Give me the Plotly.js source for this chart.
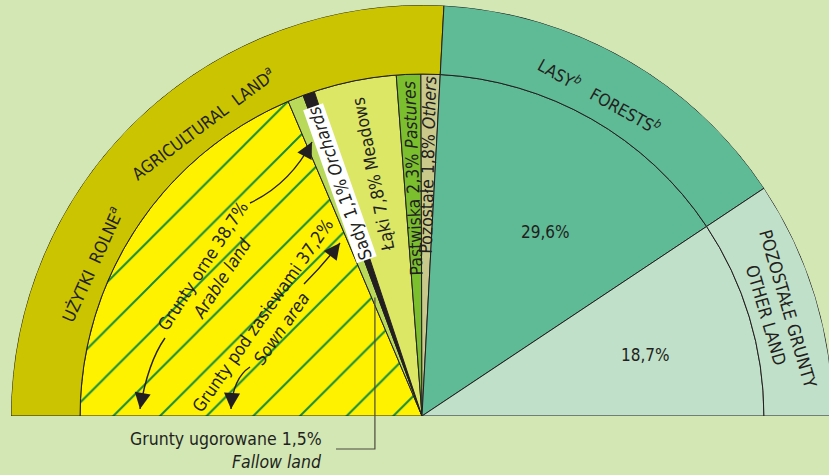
<!DOCTYPE html>
<html><head><meta charset="utf-8">
<script src="https://cdn.plot.ly/plotly-3.0.1.min.js"></script>
<style>
html,body{margin:0;padding:0;overflow:hidden;background:#d2e7b4;width:829px;height:475px}
#chart{width:845px;height:475px}
</style>
</head><body><div id="chart"></div>
<script>
// ---- data (percent of total area) ----
const categories   = ['Grunty pod zasiewami','Grunty ugorowane','Sady','Łąki','Pastwiska','Pozostałe','Lasy','Pozostałe grunty'];
const categoriesEn = ['Sown area','Fallow land','Orchards','Meadows','Pastures','Others','Forests','Other land'];
const shares       = [37.2, 1.5, 1.1, 7.8, 2.3, 1.8, 29.6, 18.7];
const groups       = ['UŻYTKI  ROLNE','LASY','POZOSTAŁE GRUNTY'];
const groupsEn     = ['AGRICULTURAL  LAND','FORESTS','OTHER LAND'];
const groupShares  = [51.7, 29.6, 18.7];

// ---- styles ----
const sliceColors = ['#fff200','#b9d95b','#231f20','#dce766','#7bbf2f','#c9c98c','#5fba96','#c1e0c9'];
const ringColors  = ['#cbc400','#5fba96','#c1e0c9'];
const ink = '#231f20';
const FONT = "'Liberation Sans Narrow','DejaVu Sans Condensed','Arial Narrow',sans-serif";
const DEG = 180/100;   // half circle = 100 %
const R_IN = 0.832;
const FS = 17.5;

function spans(vals){let c=0;return vals.map(v=>{const s=c;c+=v;return {start:s*DEG,end:c*DEG,mid:(s+v/2)*DEG,width:v*DEG};});}
const inner = spans(shares);
const outer = spans(groupShares);
const fmt = v => v.toFixed(1).replace('.',',') + '%';

const line = {color:ink, width:1};
const traces = [
  { type:'barpolar', name:categories[0],
    theta:[inner[0].mid], width:[inner[0].width], r:[R_IN], base:[0],
    marker:{color:sliceColors[0], line:line,
      pattern:{shape:'/', fgcolor:'#138b3e', bgcolor:sliceColors[0], size:33, solidity:0.06}},
    hoverinfo:'skip'},
  { type:'barpolar', name:'inner',
    theta:inner.slice(1).map(s=>s.mid), width:inner.slice(1).map(s=>s.width),
    r:inner.slice(1).map(()=>R_IN), base:inner.slice(1).map(()=>0),
    marker:{color:sliceColors.slice(1), line:line}, hoverinfo:'skip'},
  { type:'barpolar', name:'ring',
    theta:outer.map(s=>s.mid), width:outer.map(s=>s.width),
    r:outer.map(()=>1-R_IN), base:outer.map(()=>R_IN),
    marker:{color:ringColors, line:line}, hoverinfo:'skip'}
];

// geometry helpers for label placement (paper coords)
function P(t,r){const a=t*Math.PI/180;return {x:0.5-0.5*r*Math.cos(a), y:r*Math.sin(a)};}
function px(x){return (x-11)/822;}
function py(y){return (416-y)/411;}
function ann(pos,text,angle,size,extra){
  return Object.assign({xref:'paper',yref:'paper',x:pos.x,y:pos.y,text:text,textangle:angle,
    showarrow:false,font:{size:size,color:ink,family:FONT},xanchor:'center',yanchor:'middle'},extra||{});
}
// curved leader (quadratic) + arrow head at the tip
const shapes = [];
const heads = [];
function curvedArrow(x0,y0,cx,cy,x1,y1){
  shapes.push({type:'path', xref:'paper', yref:'paper',
    path:'M'+px(x0)+','+py(y0)+' Q'+px(cx)+','+py(cy)+' '+px(x1)+','+py(y1),
    line:{color:ink, width:1.4}});
  const dx=cx-x1, dy=cy-y1, L=Math.hypot(dx,dy);
  heads.push({xref:'paper',yref:'paper',x:px(x1),y:py(y1),text:'',showarrow:true,
    ax:dx/L*12, ay:dy/L*12, arrowhead:2, arrowsize:2.3, arrowwidth:1.4, arrowcolor:ink, standoff:0});
}
curvedArrow(250,203, 290,184, 312,142);
curvedArrow(165,338, 148,362, 140,409);
curvedArrow(304,284, 324,264, 340,243);
curvedArrow(250,367, 233,378, 231,409);

const arable = shares[0]+shares[1];
const annotations = [
  ann(P(24.6,0.885), groups[0]+'<sup><i>a</i></sup>', 24.6-90, 17),
  ann(P(53.3,0.89), groupsEn[0]+'<sup><i>a</i></sup>', 53.3-90, 17),
  ann(P(119,0.89), groups[1]+'<sup><i>b</i></sup>   '+groupsEn[1]+'<sup><i>b</i></sup>', 29, 17),
  ann(P(163.7,0.90), groups[2]+'<br>'+groupsEn[2], 73.7, FS),
  ann({x:px(545),y:py(232)}, fmt(shares[6]), 0, 17),
  ann({x:px(645),y:py(355)}, fmt(shares[7]), 0, 17),
  ann(P(inner[2].mid,0.60), categories[2]+' '+fmt(shares[2])+' <i>'+categoriesEn[2]+'</i>', inner[2].mid-180, FS,
      {bgcolor:'#ffffff', borderpad:0}),
  ann(P(inner[3].mid,0.60), categories[3]+' '+fmt(shares[3])+' '+categoriesEn[3], inner[3].mid-180, FS),
  ann(P(inner[4].mid,0.58), categories[4]+' '+fmt(shares[4])+' <i>'+categoriesEn[4]+'</i>', inner[4].mid-180, FS),
  ann(P(inner[5].mid,0.61), categories[5]+' '+fmt(shares[5])+' <i>'+categoriesEn[5]+'</i>', inner[5].mid-180, FS),
  ann({x:px(212.5),y:py(272.5)}, 'Grunty orne '+fmt(arable)+'<br><i>Arable land</i>', -57, FS),
  ann({x:px(272),y:py(322.5)}, categories[0]+' '+fmt(shares[0])+'<br><i>'+categoriesEn[0]+'</i>', -55, FS),
  ann({x:px(324),y:py(439)}, categories[1]+' '+fmt(shares[1]), 0, FS, {xanchor:'right'}),
  ann({x:px(324),y:py(462)}, '<i>'+categoriesEn[1]+'</i>', 0, FS, {xanchor:'right'})
].concat(heads);

const f0 = P(inner[1].mid, 0.31);
shapes.push({type:'path', xref:'paper', yref:'paper',
  path:'M'+f0.x+','+f0.y+' L'+f0.x+','+py(449)+' L'+px(336)+','+py(449),
  line:{color:'#4a4a3c', width:1.2}});

const layout = {
  width:845, height:475,
  margin:{l:11, r:12, t:5, b:59, pad:0},
  paper_bgcolor:'#d2e7b4', plot_bgcolor:'rgba(0,0,0,0)',
  showlegend:false,
  font:{family:FONT, color:ink},
  polar:{
    sector:[0,180], domain:{x:[0,1],y:[0,1]}, bgcolor:'rgba(0,0,0,0)', bargap:0,
    radialaxis:{visible:false, range:[0,1], showgrid:false, showline:false, ticks:''},
    angularaxis:{visible:false, rotation:180, direction:'clockwise', showgrid:false, showline:false, ticks:''}
  },
  annotations:annotations, shapes:shapes
};
Plotly.newPlot('chart', traces, layout, {staticPlot:true, displayModeBar:false});
</script>
</body></html>
